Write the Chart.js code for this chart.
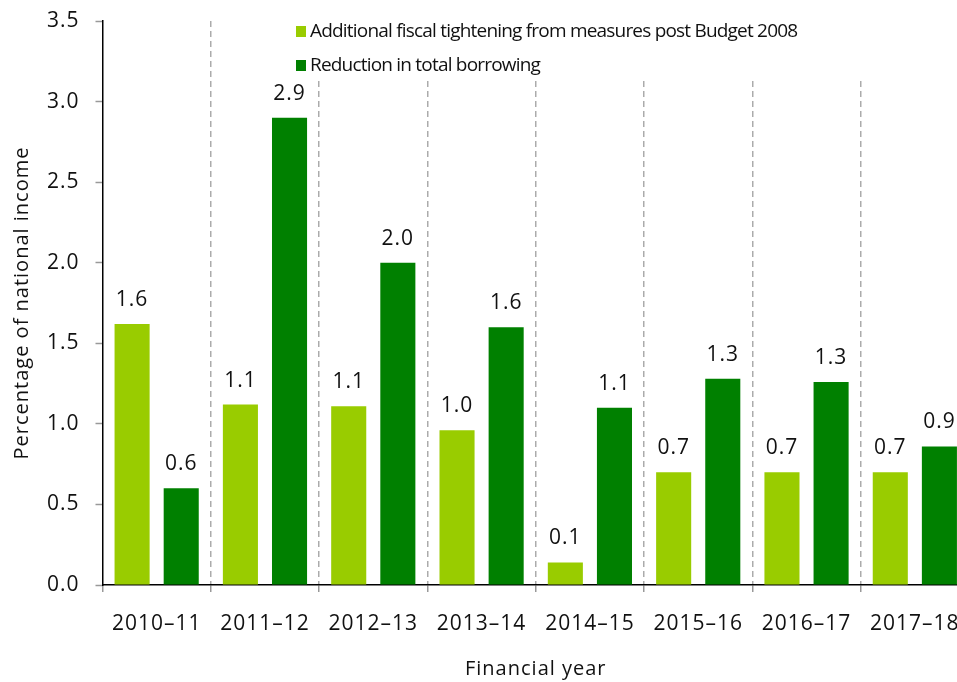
<!DOCTYPE html>
<html><head><meta charset="utf-8">
<script src="https://cdn.jsdelivr.net/npm/chart.js@4.4.1/dist/chart.umd.min.js"></script>
<style>
html,body{margin:0;padding:0;overflow:hidden;background:#fff}
#wrap{width:985px;height:682px;position:relative}
</style>
</head><body>
<div id="wrap"><canvas id="c"></canvas></div>
<script>
const categories = ['2010–11','2011–12','2012–13','2013–14','2014–15','2015–16','2016–17','2017–18'];
const fiscalTightening = [1.62, 1.12, 1.11, 0.96, 0.14, 0.70, 0.70, 0.70];
const borrowingReduction = [0.60, 2.90, 2.00, 1.60, 1.10, 1.28, 1.26, 0.86];
const seriesLabels = ['Additional fiscal tightening from measures post Budget 2008', 'Reduction in total borrowing'];
const yTickValues = [0.0, 0.5, 1.0, 1.5, 2.0, 2.5, 3.0, 3.5];
const yTitle = 'Percentage of national income';
const xTitle = 'Financial year';

const FONT = '"Open Sans", "Noto Sans", sans-serif';
const LIGHT = '#99cc00';
const DARK = '#008000';
const SPACING = '1px';

const spacing = {
  id: 'spacing',
  beforeUpdate(chart) { chart.ctx.letterSpacing = SPACING; },
  beforeDraw(chart) { chart.ctx.letterSpacing = SPACING; }
};

const valueLabels = {
  id: 'valueLabels',
  afterDatasetsDraw(chart) {
    const ctx = chart.ctx;
    ctx.save();
    ctx.letterSpacing = SPACING;
    ctx.font = '21px ' + FONT;
    ctx.fillStyle = '#111';
    ctx.textAlign = 'center';
    ctx.textBaseline = 'alphabetic';
    chart.data.datasets.forEach((ds, di) => {
      chart.getDatasetMeta(di).data.forEach((bar, i) => {
        ctx.fillText(ds.data[i].toFixed(1), bar.x, bar.y - 18);
      });
    });
    ctx.restore();
  }
};

const boxLegend = {
  id: 'boxLegend',
  afterDraw(chart) {
    const ctx = chart.ctx;
    ctx.save();
    ctx.fillStyle = '#fff';
    ctx.fillRect(288, 0, 700, 80);
    ctx.font = '19px ' + FONT;
    ctx.letterSpacing = '-0.8px';
    ctx.textBaseline = 'alphabetic';
    ctx.textAlign = 'left';
    chart.data.datasets.forEach((ds, i) => {
      const y = 37 + i * 34;
      ctx.fillStyle = ds.backgroundColor;
      ctx.fillRect(296, y - 11, 10, 11);
      ctx.fillStyle = '#111';
      ctx.fillText(ds.label, 310, y);
    });
    ctx.restore();
  }
};

new Chart(document.getElementById('c'), {
  type: 'bar',
  data: {
    labels: categories,
    datasets: [
      { label: seriesLabels[0], data: fiscalTightening, backgroundColor: LIGHT },
      { label: seriesLabels[1], data: borrowingReduction, backgroundColor: DARK }
    ]
  },
  plugins: [spacing, valueLabels, boxLegend],
  options: {
    responsive: true,
    maintainAspectRatio: false,
    animation: false,
    events: [],
    layout: { padding: { top: 21, right: 16, left: 0, bottom: 0 } },
    datasets: { bar: { categoryPercentage: 0.907, barPercentage: 0.714 } },
    plugins: { legend: { display: false }, tooltip: { enabled: false } },
    scales: {
      x: {
        offset: true,
        grid: {
          offset: true,
          color: (c) => c.index === 0 ? 'rgba(0,0,0,0)' : '#ababab',
          lineWidth: 1.5,
          drawTicks: true,
          tickLength: 7,
          tickColor: '#999',
          tickWidth: 1.5
        },
        border: { display: true, color: '#000', width: 1.5, dash: [6, 4] },
        ticks: { color: '#111', font: { family: FONT, size: 21 }, padding: 19, maxRotation: 0, autoSkip: false },
        title: { display: true, text: xTitle, color: '#111', font: { family: FONT, size: 20 }, padding: { top: 0, bottom: 1 } },
        afterFit: (s) => { s.height = 97; s.paddingLeft = 0; s.paddingRight = 0; }
      },
      y: {
        min: 0, max: 3.5,
        afterBuildTicks: (s) => { s.ticks = yTickValues.map(v => ({ value: v })); },
        grid: { drawOnChartArea: false, drawTicks: true, tickLength: 7, tickColor: '#999', tickWidth: 1.5 },
        border: { display: true, color: '#000', width: 1.5 },
        ticks: { color: '#111', font: { family: FONT, size: 21 }, padding: 16, callback: (v) => Number(v).toFixed(1) },
        title: { display: true, text: yTitle, color: '#111', font: { family: FONT, size: 20 }, padding: { top: 10, bottom: 0 } },
        afterFit: (s) => { s.width = 102.5; s.paddingTop = 0; s.paddingBottom = 0; }
      }
    }
  }
});
</script>
</body></html>
